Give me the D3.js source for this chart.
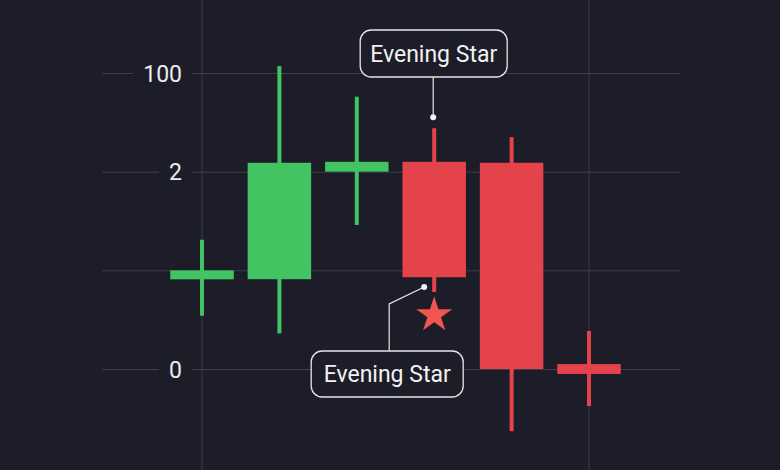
<!DOCTYPE html>
<html>
<head>
<meta charset="utf-8">
<script src="https://cdn.jsdelivr.net/npm/d3@7"></script>
<style>
  html, body { margin: 0; padding: 0; background: #1d1d29; }
  svg { display: block; }
</style>
</head>
<body>
<svg id="chart" width="780" height="470"></svg>
<script>
// ---- data ----
const categories = ["C1", "C2", "C3", "C4", "C5", "C6"];
const openValues  = [0.91, 0.91, 2.00, 2.10, 2.09,  0.05];
const closeValues = [1.00, 2.09, 2.10, 0.93, 0.00, -0.05];
const highValues  = [1.31, 3.07, 2.76, 2.44, 2.35,  0.385];
const lowValues   = [0.54, 0.36, 1.46, 0.78, -0.63, -0.375];
const tickValues  = [0, 1, 2, 3];
const tickLabels  = ["0", "", "2", "100"];
const annotationText = "Evening Star";
const annotatedCategory = "C4";

// ---- layout ----
const W = 780, H = 470;
const bg = "#1d1d29";
const green = "#42c463", red = "#e5434c", starColor = "#f0554f";
const gridColor = "#3d3d4b";

const svg = d3.select("#chart");
svg.append("rect").attr("width", W).attr("height", H).attr("fill", bg);

const x = d3.scalePoint().domain(categories).range([202, 589]);
const step = x.step();
const bodyW = step * 0.82;
const y = d3.scaleLinear().domain([0, 3]).range([369, 73]);

const data = categories.map((c, i) => ({
  c, open: openValues[i], close: closeValues[i], high: highValues[i], low: lowValues[i]
}));

// vertical grid lines (at first and last category)
svg.append("g").selectAll("line")
  .data([categories[0], categories[categories.length - 1]])
  .join("line")
  .attr("x1", d => x(d)).attr("x2", d => x(d))
  .attr("y1", 0).attr("y2", H)
  .attr("stroke", gridColor).attr("stroke-width", 1);

// horizontal grid via axis
const axis = d3.axisLeft(y)
  .tickValues(tickValues)
  .tickSize(-(680 - 102))
  .tickFormat((d, i) => tickLabels[i]);
const gAxis = svg.append("g").attr("transform", "translate(102,0)").call(axis);
gAxis.select(".domain").remove();
gAxis.selectAll(".tick line").attr("stroke", gridColor).attr("stroke-width", 1);
gAxis.selectAll(".tick text")
  .attr("x", 80)
  .attr("dy", "0.35em")
  .attr("text-anchor", "end")
  .attr("fill", "#ececec")
  .attr("font-family", "Roboto, 'Noto Sans', sans-serif")
  .attr("font-size", 23);
// background gaps behind labels
gAxis.selectAll(".tick").each(function () {
  const t = d3.select(this).select("text");
  const node = t.node();
  if (!t.text()) return;
  const bb = node.getBBox();
  d3.select(this).insert("rect", "text")
    .attr("x", bb.x - 10).attr("y", -6)
    .attr("width", bb.width + 20).attr("height", 12)
    .attr("fill", bg);
});

// candles
const gC = svg.append("g");
const candle = gC.selectAll("g.candle").data(data).join("g").attr("class", "candle");
candle.append("rect")
  .attr("x", d => x(d.c) - 2).attr("width", 4)
  .attr("y", d => y(d.high))
  .attr("height", d => y(d.low) - y(d.high))
  .attr("fill", d => d.close >= d.open ? green : red);
candle.append("rect")
  .attr("x", d => x(d.c) - bodyW / 2).attr("width", bodyW)
  .attr("y", d => y(Math.max(d.open, d.close)))
  .attr("height", d => Math.max(9, y(Math.min(d.open, d.close)) - y(Math.max(d.open, d.close))))
  .attr("fill", d => d.close >= d.open ? green : red);

// annotations
const ad = data.find(d => d.c === annotatedCategory);
const ax = x(ad.c);
const font = "Roboto, 'Noto Sans', sans-serif";
const ann = svg.append("g");

function labelBox(cx, cy, w, h) {
  ann.append("rect")
    .attr("x", cx - w / 2).attr("y", cy - h / 2)
    .attr("width", w).attr("height", h)
    .attr("rx", 11).attr("ry", 11)
    .attr("fill", bg).attr("stroke", "#e6e6e6").attr("stroke-width", 1.3);
  ann.append("text")
    .attr("x", cx).attr("y", cy).attr("dy", "0.36em")
    .attr("text-anchor", "middle")
    .attr("fill", "#f2f2f2")
    .attr("font-family", font).attr("font-size", 23).attr("font-weight", 400)
    .text(annotationText);
}

// top annotation
const topDotY = y(ad.high) - 11;
ann.append("line")
  .attr("x1", ax - 1).attr("x2", ax - 1)
  .attr("y1", 77).attr("y2", topDotY)
  .attr("stroke", "#e6e6e6").attr("stroke-width", 1.2);
ann.append("circle").attr("cx", ax - 1).attr("cy", topDotY).attr("r", 3).attr("fill", "#f2f2f2");
labelBox(ax - 0.5, 53.5, 147, 47);

// bottom annotation
const botDotX = ax - 10, botDotY = y(ad.low) - 5;
ann.append("path")
  .attr("d", `M${ax - 45},351 L${ax - 45},304 L${botDotX},${botDotY}`)
  .attr("fill", "none").attr("stroke", "#e6e6e6").attr("stroke-width", 1.2);
ann.append("circle").attr("cx", botDotX).attr("cy", botDotY).attr("r", 3).attr("fill", "#f2f2f2");
labelBox(ax - 47, 374, 152, 46);

// star
const starY = y(ad.low) + 23;
ann.append("path")
  .attr("d", d3.symbol().type(d3.symbolStar).size(400)())
  .attr("transform", `translate(${ax},${starY})`)
  .attr("fill", starColor);
</script>
</body>
</html>
